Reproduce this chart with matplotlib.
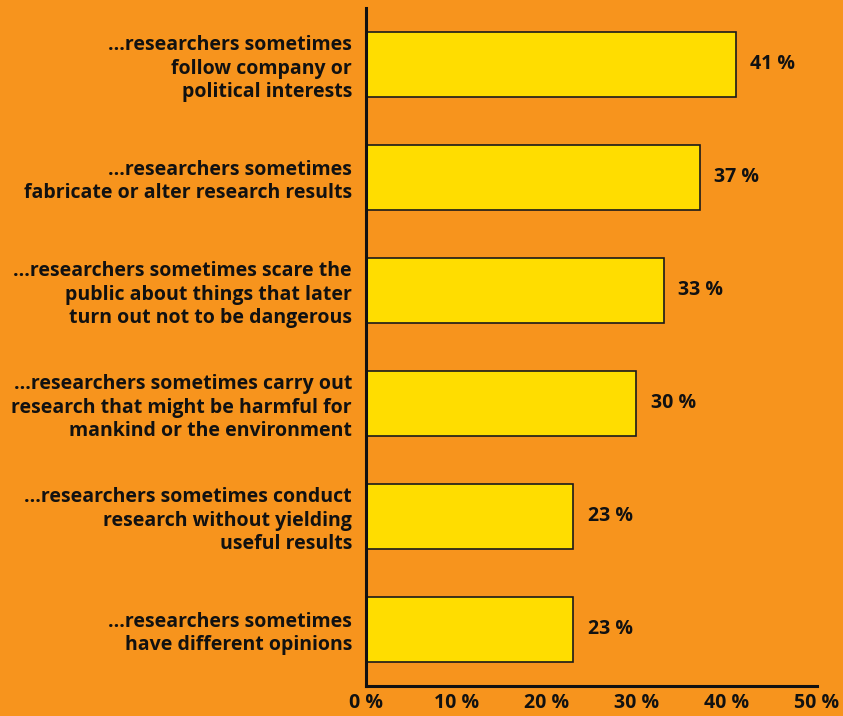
import matplotlib.pyplot as plt

plt.rcParams['font.family'] = ['Open Sans', 'DejaVu Sans']

labels = [
    "...researchers sometimes\nfollow company or\npolitical interests",
    "...researchers sometimes\nfabricate or alter research results",
    "...researchers sometimes scare the\npublic about things that later\nturn out not to be dangerous",
    "...researchers sometimes carry out\nresearch that might be harmful for\nmankind or the environment",
    "...researchers sometimes conduct\nresearch without yielding\nuseful results",
    "...researchers sometimes\nhave different opinions",
]
values = [41, 37, 33, 30, 23, 23]
xticks = [0, 10, 20, 30, 40, 50]

bg = '#F7941D'
fig = plt.figure(figsize=(8.43, 7.16), dpi=100, facecolor=bg)
ax = fig.add_axes([0.434, 0.042, 0.535, 0.947])
ax.set_facecolor(bg)

pos = range(len(values))
ax.barh(pos, values, height=0.57, color='#FFDD00', edgecolor='#1a1a1a', linewidth=1.2)
for p, v in zip(pos, values):
    ax.text(v + 1.6, p, f'{v} %', va='center', ha='left', fontsize=14,
            fontweight='bold', color='#111111')

ax.set_ylim(5.5, -0.5)
ax.set_xlim(0, 50)
ax.set_yticks(list(pos))
ax.set_yticklabels(labels, fontsize=14, fontweight='bold', color='#111111',
                   linespacing=1.22)
ax.set_xticks(xticks)
ax.set_xticklabels([f'{t} %' for t in xticks], fontsize=14, fontweight='bold',
                   color='#111111')
ax.tick_params(axis='both', length=0)
ax.tick_params(axis='y', pad=10)
ax.tick_params(axis='x', pad=5)
for s in ['top', 'right']:
    ax.spines[s].set_visible(False)
for s in ['left', 'bottom']:
    ax.spines[s].set_linewidth(2.2)
    ax.spines[s].set_color('#111111')

fig.savefig('out.png', dpi=100, facecolor=bg)
